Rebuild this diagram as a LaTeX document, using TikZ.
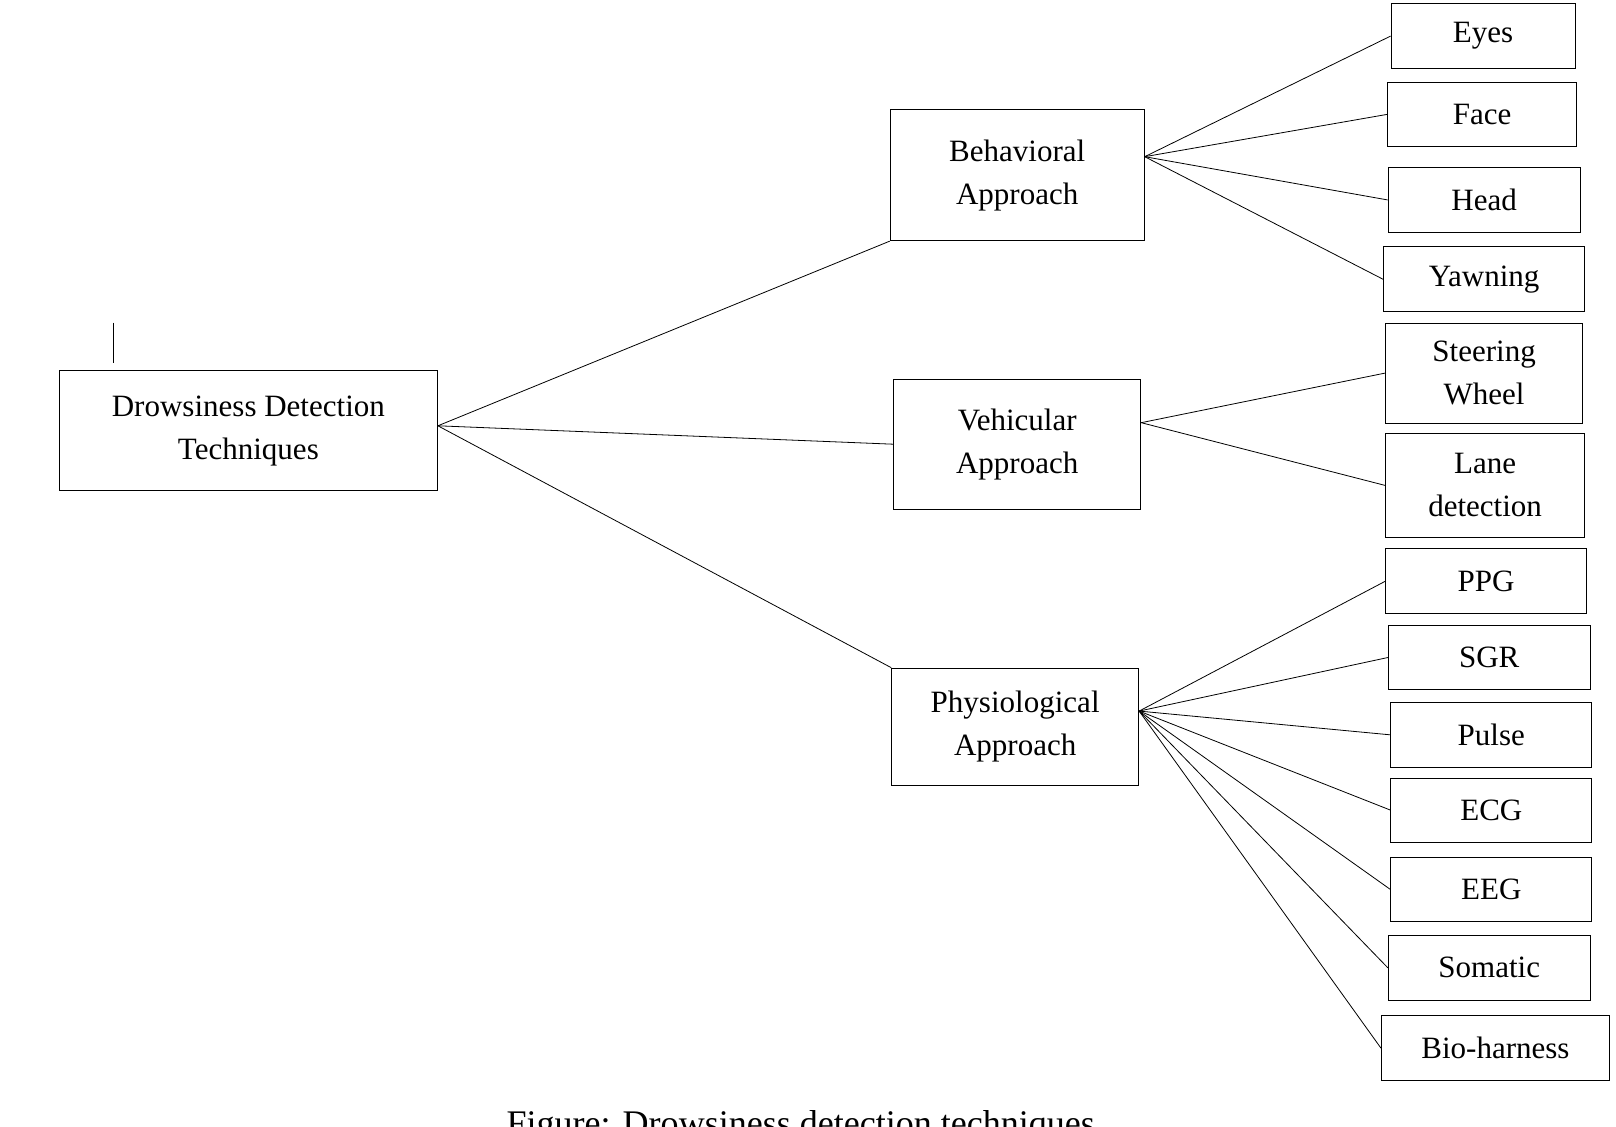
\documentclass[tikz,border=0pt]{standalone}
\usepackage{fontspec}
\setmainfont{Liberation Serif}
\begin{document}
\begin{tikzpicture}[x=1.03pt, y=-1.03pt, thick,
  box/.style={draw, inner sep=0pt, align=center, font=\fontsize{31}{43}\selectfont}]

\useasboundingbox (0,0) rectangle (1568,1093);

\node (root) at (241, 418) [box, minimum width=378pt, minimum height=120pt] {Drowsiness Detection\\Techniques};
\coordinate (stubtop) at (110, 313);
\coordinate (stubbot) at (110, 352);

\node (beh) at (987, 170) [box, minimum width=254pt, minimum height=131pt] {Behavioral\\Approach};
\node (veh) at (987, 431) [box, minimum width=247pt, minimum height=130pt] {Vehicular\\Approach};
\node (phy) at (985, 705) [box, minimum width=247pt, minimum height=117pt] {Physiological\\Approach};

\node (eyes)  at (1439, 35)  [box, minimum width=184pt, minimum height=65pt] {Eyes};
\node (face)  at (1438, 111) [box, minimum width=189pt, minimum height=63pt] {Face};
\node (head)  at (1440, 194) [box, minimum width=192pt, minimum height=65pt] {Head};
\node (yawn)  at (1440, 271) [box, minimum width=201pt, minimum height=65pt] {Yawning};
\node (steer) at (1440, 362) [box, minimum width=197pt, minimum height=100pt] {Steering\\Wheel};
\node (lane)  at (1441, 471) [box, minimum width=199pt, minimum height=103pt] {Lane\\detection};
\node (ppg)   at (1442, 564) [box, minimum width=201pt, minimum height=65pt] {PPG};
\node (sgr)   at (1445, 638) [box, minimum width=202pt, minimum height=64pt] {SGR};
\node (pulse) at (1447, 713) [box, minimum width=201pt, minimum height=65pt] {Pulse};
\node (ecg)   at (1447, 786) [box, minimum width=201pt, minimum height=64pt] {ECG};
\node (eeg)   at (1447, 863) [box, minimum width=201pt, minimum height=64pt] {EEG};
\node (soma)  at (1445, 939) [box, minimum width=202pt, minimum height=65pt] {Somatic};
\node (bio)   at (1451, 1017) [box, minimum width=228pt, minimum height=65pt] {Bio-harness};

\node (caption) at (777, 1093) [anchor=center, font=\fontsize{36}{40}\selectfont] {Figure: Drowsiness detection techniques};

\draw (stubtop) -- (stubbot);

\draw ([yshift=5pt]root.east) -- (beh.south west);
\draw ([yshift=5pt]root.east) -- (veh.west);
\draw ([yshift=5pt]root.east) -- (phy.north west);

\foreach \n in {eyes, face, head, yawn}
  \draw ([yshift=18.5pt]beh.east) -- (\n.west);
\foreach \n in {steer, lane}
  \draw ([yshift=21.5pt]veh.east) -- (\n.west);
\foreach \n in {ppg, sgr, pulse, ecg, eeg, soma, bio}
  \draw ([yshift=15.5pt]phy.east) -- (\n.west);

\end{tikzpicture}
\end{document}
